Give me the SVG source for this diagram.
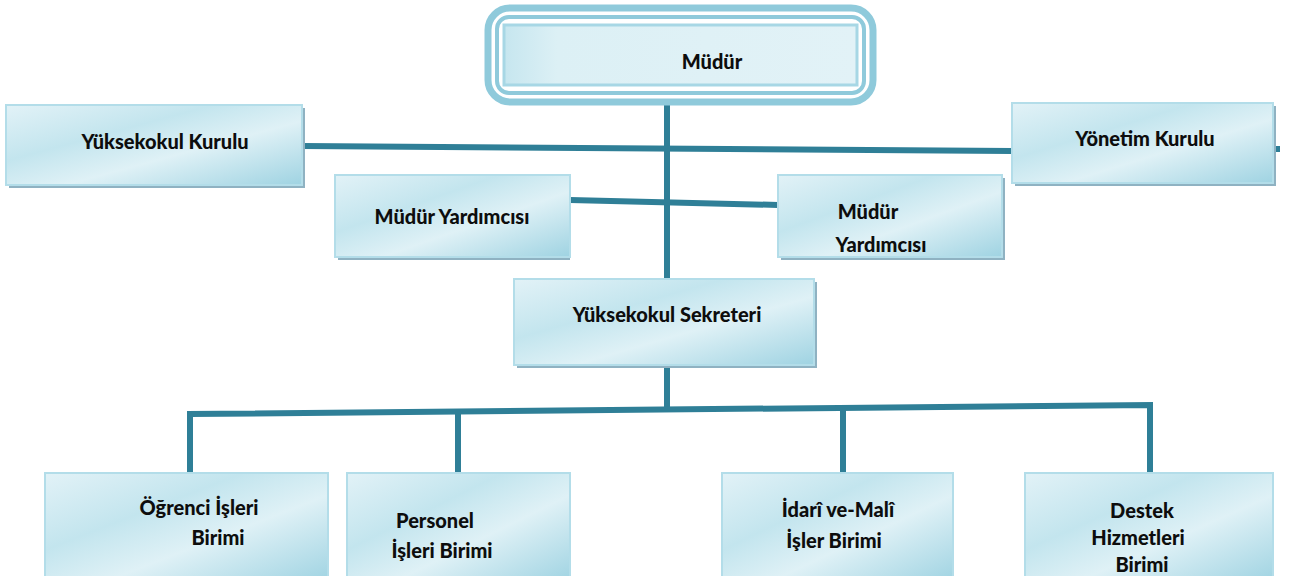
<svg xmlns="http://www.w3.org/2000/svg" width="1296" height="576" viewBox="0 0 1296 576">
<defs>
<linearGradient id="g" x1="0" y1="0" x2="1" y2="1">
<stop offset="0" stop-color="#e2f2f7"/>
<stop offset="0.35" stop-color="#c3e5ee"/>
<stop offset="0.6" stop-color="#dff1f6"/>
<stop offset="1" stop-color="#9fd3e2"/>
</linearGradient>
<linearGradient id="g2" x1="0" y1="0" x2="1" y2="0">
<stop offset="0" stop-color="#c6e6ef"/>
<stop offset="0.15" stop-color="#dcf0f5"/>
<stop offset="1" stop-color="#e2f2f7"/>
</linearGradient>
</defs>
<style>
.box{fill:url(#g);stroke:#b3dde9;stroke-width:2}
.sh{fill:#8fb2c2}
.t{font-family:Lato,"Open Sans",sans-serif;font-weight:900;font-size:20px;fill:#0d0d0d;text-anchor:middle}
.ln{stroke:#2f7f97;stroke-width:6;fill:none;stroke-linecap:butt}
</style>
<rect width="1296" height="576" fill="#fff"/>
<g id="connectors">
<line class="ln" x1="667" y1="96" x2="667" y2="282"/>
<line class="ln" x1="302" y1="146" x2="1012" y2="151"/>
<line class="ln" x1="1273" y1="149" x2="1280" y2="149"/>
<line class="ln" x1="570" y1="200" x2="778" y2="205"/>
<line class="ln" x1="667" y1="365" x2="667" y2="412"/>
<polyline class="ln" points="190,473 190,414 1150,405 1150,473"/>
<line class="ln" x1="458" y1="411" x2="458" y2="473"/>
<line class="ln" x1="843" y1="408" x2="843" y2="473"/>
</g>
<g id="mudur">
<rect x="488" y="8" width="385" height="94" rx="22" fill="#fff" stroke="#8fcadb" stroke-width="7"/>
<rect x="497" y="17" width="367" height="76" rx="12" fill="#fff" stroke="#8fcadb" stroke-width="4"/>
<rect x="504" y="25" width="353" height="60" fill="url(#g2)" stroke="#a7d7e5" stroke-width="3"/>
<text class="t" x="712" y="69">Müdür</text>
</g>
<g id="yuksekokul-kurulu">
<rect class="sh" x="9" y="108" width="296" height="80"/>
<rect class="box" x="6" y="105" width="296" height="80"/>
<text class="t" x="165" y="149">Yüksekokul Kurulu</text>
</g>
<g id="yonetim-kurulu">
<rect class="sh" x="1015" y="106" width="261" height="80"/>
<rect class="box" x="1012" y="103" width="261" height="80"/>
<text class="t" x="1145" y="146">Yönetim Kurulu</text>
</g>
<g id="mudur-yardimcisi-1">
<rect class="sh" x="338" y="178" width="232" height="82"/>
<rect class="box" x="335" y="175" width="235" height="82"/>
<text class="t" x="452" y="224">Müdür Yardımcısı</text>
</g>
<g id="mudur-yardimcisi-2">
<rect class="sh" x="781" y="178" width="224" height="82"/>
<rect class="box" x="778" y="175" width="224" height="82"/>
<text class="t" x="868" y="219">Müdür</text>
<text class="t" x="881" y="252">Yardımcısı</text>
</g>
<g id="sekreter">
<rect class="sh" x="517" y="282" width="300" height="86"/>
<rect class="box" x="514" y="279" width="300" height="86"/>
<text class="t" x="667" y="322">Yüksekokul Sekreteri</text>
</g>
<g id="ogrenci">
<rect class="box" x="45" y="473" width="283" height="110"/>
<text class="t" x="199" y="515">Öğrenci İşleri</text>
<text class="t" x="218" y="545">Birimi</text>
</g>
<g id="personel">
<rect class="box" x="347" y="473" width="223" height="110"/>
<text class="t" x="435" y="528">Personel</text>
<text class="t" x="442" y="558">İşleri Birimi</text>
</g>
<g id="idari">
<rect class="box" x="722" y="473" width="231" height="110"/>
<text class="t" x="838" y="517">İdarî ve-Malî</text>
<text class="t" x="834" y="548">İşler Birimi</text>
</g>
<g id="destek">
<rect class="box" x="1025" y="473" width="248" height="110"/>
<text class="t" x="1142" y="518">Destek</text>
<text class="t" x="1138" y="545">Hizmetleri</text>
<text class="t" x="1142" y="572">Birimi</text>
</g>
</svg>
